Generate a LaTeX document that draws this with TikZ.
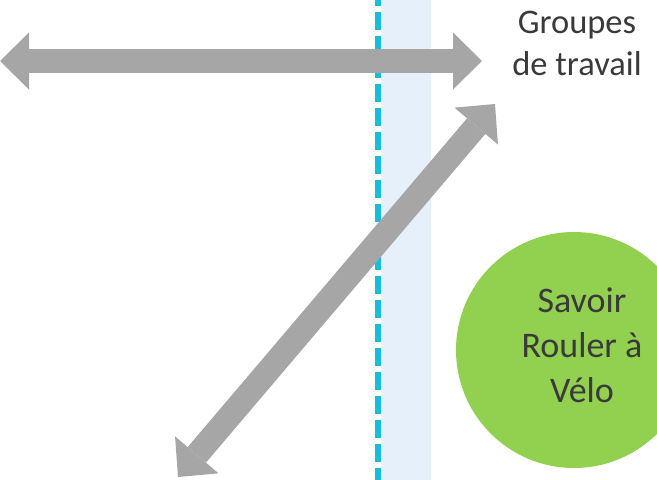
\documentclass[tikz,border=0pt]{standalone}
\usepackage{fontspec}
\setmainfont{Carlito}
\usetikzlibrary{arrows.meta}

\definecolor{arrowgray}{HTML}{A6A6A6}
\definecolor{dashcyan}{HTML}{17BDDC}
\definecolor{bandblue}{HTML}{E6F0FA}
\definecolor{circlegreen}{HTML}{92D050}
\definecolor{textgray}{HTML}{3A3A3A}

\tikzset{arrow_style/.style={line width=24pt, draw=arrowgray,
    {Triangle[length=29pt,width=57pt,line width=0pt]}-{Triangle[length=29pt,width=57pt,line width=0pt]}}}
\tikzset{text_style/.style={align=center, text=textgray, inner sep=0pt}}

\begin{document}
\begin{tikzpicture}[x=1pt,y=-1pt]
    \useasboundingbox (0,0) rectangle (657,480);
    \fill[bandblue] (381,0) rectangle (431,480);
    \draw[dashcyan, line width=6pt, dash pattern=on 18pt off 6pt] (378,-12) -- (378,480);

    \node[circle, fill=circlegreen, minimum size=236pt, inner sep=0pt] (velo) at (574,350) {};
    \node[text_style, font=\fontsize{36}{45}\selectfont] (velo_text) at (582,345) {Savoir\\Rouler à\\Vélo};
    \node[text_style, font=\fontsize{34.5}{42}\selectfont] (groupes) at (577,43) {Groupes\\de travail};

    \coordinate (h_left) at (0,61);
    \coordinate (h_right) at (482,61);
    \coordinate (d_low) at (178,477);
    \coordinate (d_up) at (495,104);

    \draw[arrow_style] (h_left) -- (h_right);
    \draw[arrow_style] (d_low) -- (d_up);
\end{tikzpicture}
\end{document}
